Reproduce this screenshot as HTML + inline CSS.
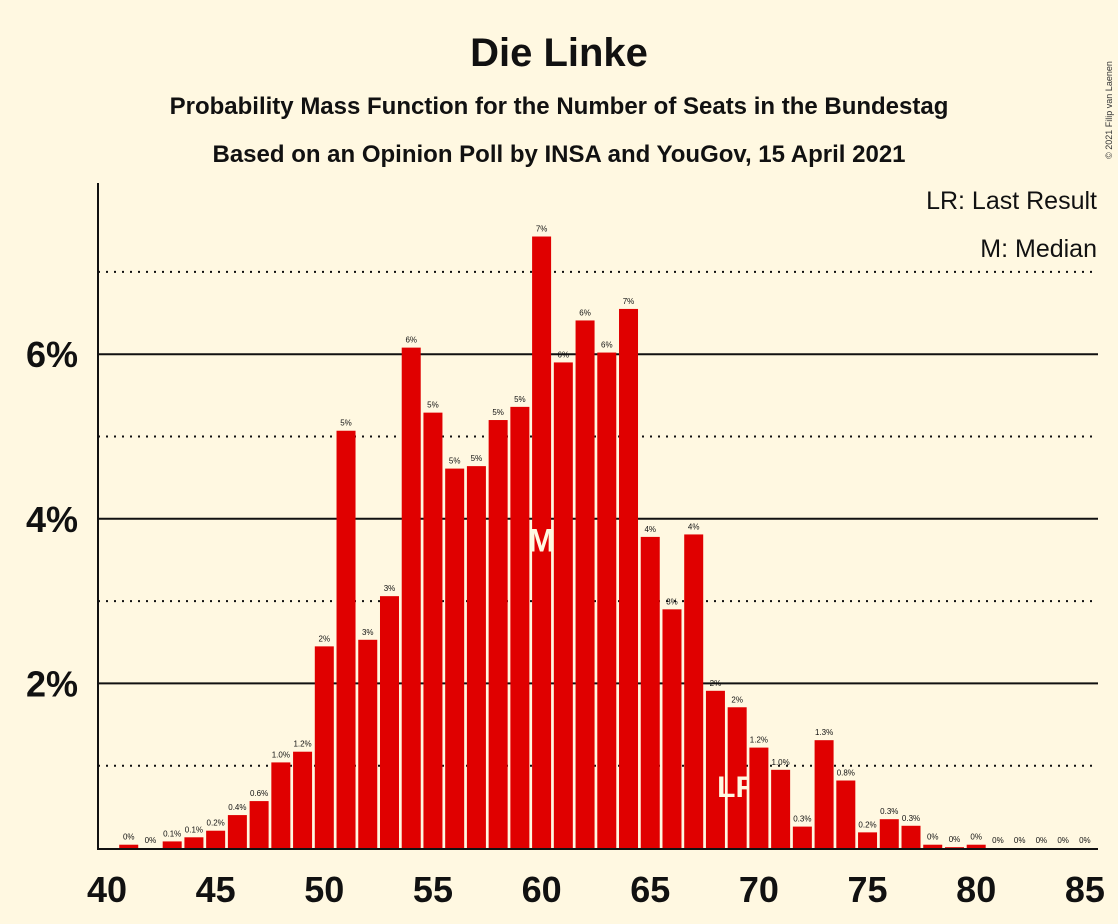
<!DOCTYPE html>
<html><head><meta charset="utf-8"><style>
body{margin:0;background:#fff8e1;}
svg{display:block;font-family:"Liberation Sans",sans-serif;}
</style></head><body>
<svg id="chart" width="1118" height="924">
<rect width="1118" height="924" fill="#fff8e1"/>
<text x="559" y="66" text-anchor="middle" font-size="40" font-weight="bold" fill="#111">Die Linke</text>
<text x="559" y="114" text-anchor="middle" font-size="24" font-weight="bold" fill="#111">Probability Mass Function for the Number of Seats in the Bundestag</text>
<text x="559" y="162" text-anchor="middle" font-size="24" font-weight="bold" fill="#111">Based on an Opinion Poll by INSA and YouGov, 15 April 2021</text>
<text x="1097" y="209" text-anchor="end" font-size="25" fill="#111">LR: Last Result</text>
<text x="1097" y="257" text-anchor="end" font-size="25" fill="#111">M: Median</text>
<text x="1112" y="110" font-size="9" fill="#333" transform="rotate(-90 1112 110)" text-anchor="middle">© 2021 Filip van Laenen</text>
<g id="grid"></g><g id="bars"></g><g id="axes"></g>
</svg>
<script>
const seats=[41,42,43,44,45,46,47,48,49,50,51,52,53,54,55,56,57,58,59,60,61,62,63,64,65,66,67,68,69,70,71,72,73,74,75,76,77,78,79,80,81,82,83,84,85];
const probs=[0.04,0,0.08,0.13,0.21,0.4,0.57,1.04,1.17,2.45,5.07,2.53,3.06,6.08,5.29,4.61,4.64,5.2,5.36,7.43,5.9,6.41,6.02,6.55,3.78,2.9,3.81,1.91,1.71,1.22,0.95,0.26,1.31,0.82,0.19,0.35,0.27,0.04,0.01,0.04,0,0,0,0,0];
const labels=["0%","0%","0.1%","0.1%","0.2%","0.4%","0.6%","1.0%","1.2%","2%","5%","3%","3%","6%","5%","5%","5%","5%","5%","7%","6%","6%","6%","7%","4%","3%","4%","2%","2%","1.2%","1.0%","0.3%","1.3%","0.8%","0.2%","0.3%","0.3%","0%","0%","0%","0%","0%","0%","0%","0%"];
const xTicks=[40,45,50,55,60,65,70,75,80,85];
const yTicks=[2,4,6];
const dottedLines=[1,3,5,7];
const median=60, lastResult=69;
const NS="http://www.w3.org/2000/svg";
const xs=v=>107+(v-40)*21.73;
const ys=v=>848-v*82.3;
function mk(t,a,p){const e=document.createElementNS(NS,t);for(const k in a)e.setAttribute(k,a[k]);p.appendChild(e);return e;}
const grid=document.getElementById('grid'),bars=document.getElementById('bars'),axes=document.getElementById('axes');
dottedLines.forEach(v=>{const l=mk('line',{x1:98,x2:1098,y1:ys(v),y2:ys(v),stroke:'#111','stroke-width':2,'stroke-dasharray':'2,6'},grid);

});
yTicks.forEach(v=>{const l=mk('line',{x1:98,x2:1098,y1:ys(v),y2:ys(v),stroke:'#111','stroke-width':2},grid);


const t=mk('text',{x:78,y:ys(v)+13,'text-anchor':'end','font-size':36,'font-weight':'bold',fill:'#111'},axes);t.textContent=v+'%';

});
seats.forEach((s,i)=>{const p=probs[i];const x=xs(s);
if(p>0){const r=mk('rect',{x:x-9.5,y:ys(p),width:19,height:848-ys(p),fill:'#e00000'},bars);

}
const t=mk('text',{x:x,y:ys(p)-5,'text-anchor':'middle','font-size':8,fill:'#111'},bars);t.textContent=labels[i];


if(s===median){const m=mk('text',{x:x,y:ys(3.6),'text-anchor':'middle','font-size':32,'font-weight':'bold',fill:'#fff8e1'},bars);m.textContent='M';

}
if(s===lastResult){const m=mk('text',{x:x,y:ys(0.62),'text-anchor':'middle','font-size':30,'font-weight':'bold',fill:'#fff8e1'},bars);m.textContent='LR';

}
});
const ya=mk('line',{x1:98,x2:98,y1:183,y2:849,stroke:'#111','stroke-width':2},axes);


const xa=mk('line',{x1:97,x2:1098,y1:849,y2:849,stroke:'#111','stroke-width':2},axes);


xTicks.forEach(v=>{const t=mk('text',{x:xs(v),y:902,'text-anchor':'middle','font-size':36,'font-weight':'bold',fill:'#111'},axes);t.textContent=v;

});
</script>
</body></html>
